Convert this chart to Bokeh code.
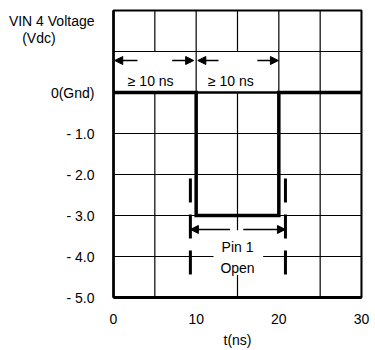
from bokeh.plotting import figure
from bokeh.models import Range1d, FixedTicker, Label, Arrow, NormalHead
from bokeh.embed import file_html
from bokeh.resources import INLINE

FONT = "Liberation Sans"
NB = "\u00a0"

# ---- data ----
t_ns = [0, 10, 10, 20, 20, 30]          # input waveform time points
v_in = [0, 0, -3, -3, 0, 0]             # input waveform voltage (Vdc)
x_ticks = [0, 10, 20, 30]
y_ticks = [0, -1, -2, -3, -4, -5]
y_tick_labels = ["0(Gnd)", "- 1.0", "- 2.0", "- 3.0", "- 4.0", "- 5.0"]
y_title_lines = ["VIN 4 Voltage", "(Vdc)" + NB * 10]
y_title_pos = [1.756, 1.33]             # title lines sit on the y axis label column
x_grid = [0, 5, 10, 15, 20, 25, 30]
y_grid = [2, 1, 0, -1, -2, -3, -4, -5]
# gaps in grid lines (where text/arrows sit)
v_gaps = {5: [(0, 1)], 10: [(-5, 0)], 15: [(0, 1), (-4.45, -3.36)], 20: [(-5, 0)]}
h_gaps = {-4: [(12.1, 18.1)]}
# "Pin 1 Open" marker lines and span arrow
marker_t = [9.3, 20.8]
marker_v = [-2.1, -4.45]
span_from = [14.1, 15.7]
span_to = [9.3, 20.8]
span_v = -3.34
# pulse width arrows
width_from = [2.9, 7.1, 12.7, 17.4]
width_to = [0.15, 9.7, 10.2, 19.95]
width_v = 0.78
width_labels = ["\u2265 10 ns", "\u2265 10 ns"]
width_label_t = [4.5, 14.2]
width_label_v = 0.29
pin_labels = ["Pin 1", "Open"]
pin_label_t = 15.0
pin_label_v = [-3.78, -4.27]

W, H = 372, 350
FL, FT, FW, FH = 113, 10, 248, 287   # frame left/top/width/height in px
X0, X1, Y0, Y1 = 0, 30, -5, 2

p = figure(width=W, height=H, output_backend="svg", toolbar_location=None,
           x_range=Range1d(X0, X1), y_range=Range1d(Y0, Y1),
           min_border_left=FL, min_border_right=W - FL - FW, min_border_top=FT,
           min_border_bottom=H - FT - FH)
p.grid.visible = False
p.background_fill_color = "white"
p.border_fill_color = "white"
p.outline_line_color = "black"
p.outline_line_width = 2


def split(lo, hi, gaps):
    segs, cur = [], lo
    for a, b in sorted(gaps):
        if a > cur:
            segs.append((cur, a))
        cur = max(cur, b)
    if cur < hi:
        segs.append((cur, hi))
    return segs


gx0, gy0, gx1, gy1 = [], [], [], []
for gx in x_grid:
    for a, b in split(min(y_grid), max(y_grid), v_gaps.get(gx, [])):
        gx0.append(gx); gx1.append(gx); gy0.append(a); gy1.append(b)
for gy in y_grid:
    for a, b in split(min(x_grid), max(x_grid), h_gaps.get(gy, [])):
        gx0.append(a); gx1.append(b); gy0.append(gy); gy1.append(gy)
p.segment(gx0, gy0, gx1, gy1, line_color="black", line_width=1.2)

# ground level between pulse edges (heavier line)
p.segment([t_ns[2]], [v_in[0]], [t_ns[3]], [v_in[0]], line_color="black", line_width=2.5)

# waveform
p.line(t_ns, v_in, line_color="black", line_width=3.5, line_join="miter")

# marker dashed lines
p.segment(marker_t, [marker_v[0]] * 2, marker_t, [marker_v[1]] * 2,
          line_color="black", line_width=3, line_dash="24 12")

# arrows
for a, b in zip(span_from, span_to):
    p.add_layout(Arrow(x_start=a, y_start=span_v, x_end=b, y_end=span_v,
                       line_width=1.5, line_color="black",
                       end=NormalHead(size=8, fill_color="black", line_color="black", line_width=1)))
for a, b in zip(width_from, width_to):
    p.add_layout(Arrow(x_start=a, y_start=width_v, x_end=b, y_end=width_v,
                       line_width=1.5, line_color="black",
                       end=NormalHead(size=8, fill_color="black", line_color="black", line_width=1)))

# text labels
for txt, tx in zip(width_labels, width_label_t):
    p.add_layout(Label(x=tx, y=width_label_v, text=txt, text_align="center",
                       text_baseline="middle", text_font=FONT, text_font_size="14px",
                       text_color="black"))
for txt, ty in zip(pin_labels, pin_label_v):
    p.add_layout(Label(x=pin_label_t, y=ty, text=txt, text_align="center",
                       text_baseline="middle", text_font=FONT, text_font_size="14px",
                       text_color="black"))

# axes
xa = p.xaxis[0]
xa.ticker = FixedTicker(ticks=x_ticks)
xa.major_tick_in = 0
xa.major_tick_out = 0
xa.minor_tick_in = 0
xa.minor_tick_out = 0
xa.axis_line_width = 3
xa.axis_line_color = "black"
xa.major_label_text_font = FONT
xa.major_label_text_font_size = "14px"
xa.major_label_text_color = "black"
xa.major_label_standoff = 16
xa.axis_label = "t(ns)"
xa.axis_label_text_font = FONT
xa.axis_label_text_font_size = "14px"
xa.axis_label_text_font_style = "normal"
xa.axis_label_text_color = "black"
xa.axis_label_standoff = 5

ya = p.yaxis[0]
ya.ticker = FixedTicker(ticks=y_ticks + y_title_pos)
overrides = {k: v for k, v in zip(y_ticks, y_tick_labels)}
overrides.update({k: v for k, v in zip(y_title_pos, y_title_lines)})
ya.major_label_overrides = overrides
ya.major_tick_in = 0
ya.major_tick_out = 0
ya.minor_tick_in = 0
ya.minor_tick_out = 0
ya.axis_line_width = 2.5
ya.axis_line_color = "black"
ya.major_label_text_font = FONT
ya.major_label_text_font_size = "14px"
ya.major_label_text_color = "black"
ya.major_label_standoff = 19

open("out.html", "w").write(file_html(p, INLINE))
